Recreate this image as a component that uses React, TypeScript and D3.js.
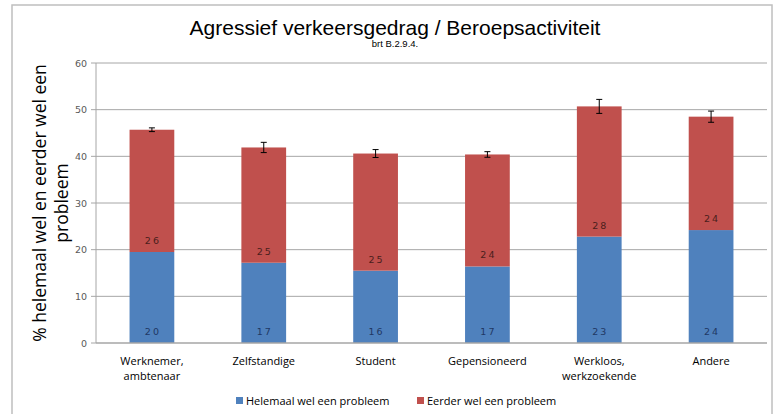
import React from "react";
import * as d3 from "d3";

const categories = ["Werknemer,\nambtenaar", "Zelfstandige", "Student", "Gepensioneerd", "Werkloos,\nwerkzoekende", "Andere"];
const helemaal = [19.5, 17.2, 15.5, 16.4, 22.8, 24.2];
const eerder = [26.2, 24.7, 25.1, 24.0, 27.9, 24.3];
const helemaalLabels = ["20", "17", "16", "17", "23", "24"];
const eerderLabels = ["26", "25", "25", "24", "28", "24"];
const errors = [0.4, 1.1, 0.85, 0.6, 1.5, 1.2];
const yTicks = [0, 10, 20, 30, 40, 50, 60];
const seriesNames = ["Helemaal wel een probleem", "Eerder wel een probleem"];

const W = 775, H = 414;
const left = 96, right = 767, top = 63, bottom = 343;
const BLUE = "#4F81BD", RED = "#C0504D";

export default function App() {
  const x = d3.scaleBand<string>().domain(categories).range([left, right]).paddingInner(0.6).paddingOuter(0.3);
  const y = d3.scaleLinear().domain([0, 60]).range([bottom, top]);
  const bw = x.bandwidth();
  return (
    <svg width={W} height={H} style={{ position: "absolute", left: 0, top: 0, background: "#fff" }}>
      <rect x={12} y={5} width={760} height={420} fill="#fff" stroke="#bfbfbf" strokeWidth={1.5} />
      <text x={395} y={35} textAnchor="middle" fontFamily="Liberation Sans, Arial" fontSize={21} fill="#000">Agressief verkeersgedrag / Beroepsactiviteit</text>
      <text x={395} y={47} textAnchor="middle" fontFamily="Liberation Sans, Arial" fontSize={9.5} fill="#000">brt B.2.9.4.</text>
      {yTicks.map(t => (
        <g key={t}>
          {t > 0 && <line x1={left} x2={right} y1={y(t)} y2={y(t)} stroke="#a6a6a6" strokeWidth={1} />}
          <line x1={left - 5} x2={left} y1={y(t)} y2={y(t)} stroke="#a6a6a6" />
          <text x={left - 9} y={y(t) + 3.5} textAnchor="end" fontFamily="DejaVu Sans" fontSize={9.5} fill="#595959">{t}</text>
        </g>
      ))}
      <line x1={left} x2={left} y1={top} y2={bottom} stroke="#a6a6a6" />
      {categories.map((c, i) => {
        const x0 = x(c)!;
        const cx = x0 + bw / 2;
        const tot = helemaal[i] + eerder[i];
        return (
          <g key={c}>
            <rect x={x0} y={y(helemaal[i])} width={bw} height={y(0) - y(helemaal[i])} fill={BLUE} />
            <rect x={x0} y={y(tot)} width={bw} height={y(helemaal[i]) - y(tot)} fill={RED} />
            <text x={cx + 1} y={bottom - 8} textAnchor="middle" fontFamily="DejaVu Sans" fontSize={9.5} letterSpacing={2} fill="#1f3864">{helemaalLabels[i]}</text>
            <text x={cx + 1} y={y(helemaal[i]) - 8} textAnchor="middle" fontFamily="DejaVu Sans" fontSize={9.5} letterSpacing={2} fill="#4a1e1c">{eerderLabels[i]}</text>
            <line x1={cx} x2={cx} y1={y(tot + errors[i])} y2={y(tot - errors[i])} stroke="#000" strokeWidth={1} />
            <line x1={cx - 3} x2={cx + 3} y1={y(tot + errors[i])} y2={y(tot + errors[i])} stroke="#000" />
            <line x1={cx - 3} x2={cx + 3} y1={y(tot - errors[i])} y2={y(tot - errors[i])} stroke="#000" />
            {c.split("\n").map((l, j) => (
              <text key={j} x={cx} y={365 + j * 15} textAnchor="middle" fontFamily="Open Sans, sans-serif" fontSize={11} fill="#000">{l}</text>
            ))}
          </g>
        );
      })}
      <line x1={left} x2={right} y1={bottom} y2={bottom} stroke="#a6a6a6" strokeWidth={1.5} />
      <g transform="translate(46,203) rotate(-90)">
        <text x={0} y={0} textAnchor="middle" fontFamily="Open Sans, sans-serif" fontSize={17.5} fill="#000">% helemaal wel en eerder wel een</text>
        <text x={0} y={22} textAnchor="middle" fontFamily="Open Sans, sans-serif" fontSize={17.5} fill="#000">probleem</text>
      </g>
      <rect x={236} y={397} width={7} height={7} fill={BLUE} />
      <text x={246} y={405} fontFamily="Open Sans, sans-serif" fontSize={11} fill="#000">{seriesNames[0]}</text>
      <rect x={417} y={397} width={7} height={7} fill={RED} />
      <text x={427} y={405} fontFamily="Open Sans, sans-serif" fontSize={11} fill="#000">{seriesNames[1]}</text>
    </svg>
  );
}
